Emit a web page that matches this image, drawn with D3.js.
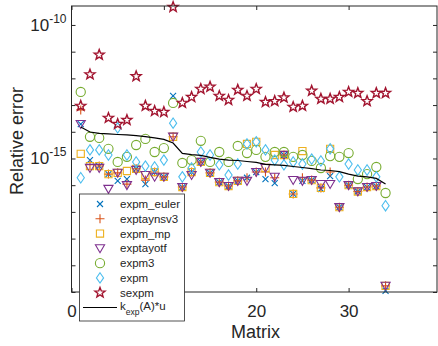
<!DOCTYPE html>
<html><head><meta charset="utf-8">
<script src="https://cdn.jsdelivr.net/npm/d3@7"></script>
<style>body{margin:0;background:#fff}svg{display:block}text{font-family:"Liberation Sans",Arial,Helvetica,sans-serif;fill:#262626}</style>
</head><body><svg id="c" width="438" height="346"></svg>
<script>
const matrices = d3.range(1, 35);
const expm_euler = [1.95e-14,8.7e-16,5.2e-16,2.6e-16,1.45e-16,1.7e-16,4.1e-16,1.1e-16,3.1e-16,2.05e-16,2.2e-13,8.5e-17,3.1e-16,7.4e-16,2.9e-16,1.3e-16,9.3e-17,1.45e-16,1.9e-16,3.1e-16,1.7e-16,1.2e-16,1.35e-15,4.7e-17,1.45e-16,1.55e-16,7.2e-17,2.2e-16,1.5e-17,1.0e-16,5.8e-17,8.5e-17,9.3e-17,1.1e-20];
const exptaynsv3 = [6.6e-14,5.8e-16,5.2e-16,2.6e-16,2.9e-16,1.1e-16,4.1e-16,1.55e-16,3.1e-16,2.05e-16,6.5e-15,8.5e-17,3.1e-16,7.4e-16,2.9e-16,1.3e-16,9.3e-17,1.45e-16,1.9e-16,3.1e-16,3.1e-16,1.9e-16,1.35e-15,4.7e-17,1.9e-16,1.55e-16,7.9e-17,3.1e-16,1.5e-17,1.0e-16,5.8e-17,8.5e-17,9.3e-17,1.7e-20];
const expm_mp = [1.5e-15,5.2e-16,5.2e-16,2.6e-16,2.9e-16,3.4e-16,4.1e-16,2.4e-16,3.1e-16,2.05e-16,6.5e-15,8.5e-17,3.1e-16,7.4e-16,2.9e-16,1.3e-16,9.3e-17,1.45e-16,3.5e-15,4.2e-15,4.4e-16,1.35e-15,1.35e-15,4.7e-17,1.9e-15,1.55e-16,7.9e-17,2.3e-15,1.5e-17,1.0e-16,5.8e-17,8.5e-17,9.3e-17,1.7e-20];
const exptayotf = [1.95e-14,4.4e-16,4.4e-16,7.2e-17,2.9e-16,1.0e-16,3.7e-16,2.4e-16,2.05e-16,2.05e-16,6.5e-15,8.5e-17,2.4e-16,7.4e-16,2.9e-16,1.3e-16,9.3e-17,1.45e-16,1.45e-16,3.1e-16,4.4e-16,2.05e-16,1.35e-15,1.55e-16,1.45e-16,1.55e-16,1.1e-16,1.1e-16,1.5e-17,1.0e-16,5.8e-17,8.5e-17,9.3e-17,1.7e-20];
const expm3 = [3.1e-13,6.5e-15,5.9e-15,2.3e-15,7.4e-16,1.15e-15,3.2e-15,5.4e-15,1.75e-15,2.45e-15,1.2e-13,6.8e-16,8.7e-16,4.6e-15,7.4e-16,1.75e-15,7.4e-16,2.95e-15,1.6e-15,2.1e-15,1.15e-15,1.75e-15,1.75e-15,1.15e-15,1.35e-15,8.1e-16,4.4e-16,1.23e-15,1.15e-15,1.6e-15,1.7e-16,2.6e-16,4.8e-16,5.1e-17];
const expm = [1.9e-16,2.1e-15,2.1e-15,1.35e-15,1.4e-14,1.35e-15,7.4e-16,5.2e-16,4.8e-16,8.7e-16,2.1e-14,2.05e-16,4.4e-16,1.75e-15,1.35e-15,5.8e-16,2.4e-16,6.2e-16,3.5e-15,4.2e-15,2.1e-15,8.7e-16,5.8e-16,7.4e-16,6.2e-16,9.5e-16,8.1e-16,2.3e-15,2.05e-16,6.2e-16,3.7e-16,3.7e-16,2.05e-16,1.7e-17];
const sexpm = [9.3e-14,1.4e-12,7.6e-12,3.3e-14,1.95e-14,2.75e-14,1.2e-12,9.3e-14,6.0e-14,5.5e-14,4.7e-10,1.2e-13,2.0e-13,4.0e-13,4.8e-13,2.2e-13,1.55e-13,3.7e-13,2.2e-13,4.0e-13,1.3e-13,1.4e-13,1.9e-13,8.5e-14,9.3e-14,3.4e-13,1.7e-13,1.7e-13,2.0e-13,3.1e-13,2.8e-13,1.4e-13,2.8e-13,2.8e-13];
const kexp_u = [1.5e-14,9.8e-15,8.7e-15,8.3e-15,7.9e-15,7.6e-15,7.2e-15,6.6e-15,5.9e-15,5.2e-15,3.8e-15,1.55e-15,1.4e-15,1.3e-15,1.1e-15,9.5e-16,8.7e-16,8.4e-16,7.7e-16,7.1e-16,6.0e-16,5.8e-16,5.5e-16,5.0e-16,4.6e-16,4.2e-16,3.7e-16,3.55e-16,3.2e-16,2.6e-16,2.2e-16,2.05e-16,1.8e-16,1.1e-16];
const xTicks = [0, 10, 20, 30];
const xTickLabels = ["0", "", "20", "30"]; // "10" is hidden behind the legend
const yTickExps = [-20,-19,-18,-17,-16,-15,-14,-13,-12,-11,-10];
const yLabelExps = [-15, -10];
const seriesNames = ["expm_euler","exptaynsv3","expm_mp","exptayotf","expm3","expm","sexpm"];

const L = 71.5, R = 437, T = 6, B = 292;
const svg = d3.select("#c");
const x = d3.scaleLinear().domain([0, 39.57]).range([L, R]);
const y = d3.scaleLog().domain([1e-20, Math.pow(10, -9.29)]).range([B, T]);
const axc = "#262626";

function star(r){const p=[];for(let i=0;i<10;i++){const a=-Math.PI/2+i*Math.PI/5;const rr=i%2?r*0.42:r;p.push([rr*Math.cos(a),rr*Math.sin(a)]);}return "M"+p.map(d=>d.map(v=>v.toFixed(2)).join(",")).join("L")+"Z";}
const sym = {
  expm_euler: {c:"#0072BD", p:"M-3,-3L3,3M-3,3L3,-3"},
  exptaynsv3: {c:"#D95319", p:"M-4.5,0L4.5,0M0,-4.5L0,4.5"},
  expm_mp: {c:"#EDB120", p:"M-3.6,-3.6H3.6V3.6H-3.6Z"},
  exptayotf: {c:"#7E2F8E", p:"M-4.6,-3.6L4.6,-3.6L0,4.4Z"},
  expm3: {c:"#77AC30", p:"M4.6,0A4.6,4.6 0 1 1 -4.6,0A4.6,4.6 0 1 1 4.6,0Z"},
  expm: {c:"#4DBEEE", p:"M0,-5.2L3.6,0L0,5.2L-3.6,0Z"},
  sexpm: {c:"#A2142F", p:star(5.3), w:1.4}
};
const data = {expm_euler, exptaynsv3, expm_mp, exptayotf, expm3, expm, sexpm};

const pg = svg.append("g");
seriesNames.forEach(n => {
  pg.append("g").selectAll("path").data(data[n]).join("path")
    .attr("transform",(d,i)=>`translate(${x(matrices[i])},${y(d)})`)
    .attr("d", sym[n].p).attr("fill","none").attr("stroke",sym[n].c).attr("stroke-width",sym[n].w||1.1);
});
pg.append("path").datum(kexp_u)
  .attr("d", d3.line().x((d,i)=>x(matrices[i])).y(d=>y(d)))
  .attr("fill","none").attr("stroke","#000").attr("stroke-width",1.2);

const ax = svg.append("g");
ax.append("rect").attr("x",L).attr("y",T).attr("width",R-L).attr("height",B-T).attr("fill","none").attr("stroke",axc).attr("stroke-width",1);
const xAxB = d3.axisBottom(x).tickValues(xTicks).tickSize(-4).tickPadding(13).tickFormat((d,i)=>xTickLabels[i]);
const gxb = ax.append("g").attr("transform",`translate(0,${B})`).call(xAxB);
gxb.select(".domain").remove();
gxb.selectAll("line").attr("stroke",axc);
gxb.selectAll("text").attr("font-size",17).attr("fill",axc).attr("font-family","Liberation Sans, Arial, sans-serif");
const gxt = ax.append("g").attr("transform",`translate(0,${T})`).call(d3.axisTop(x).tickValues(xTicks).tickSize(-4).tickFormat(""));
gxt.select(".domain").remove(); gxt.selectAll("line").attr("stroke",axc);
const yt = yTickExps.map(e=>Math.pow(10,e));
const gyl = ax.append("g").attr("transform",`translate(${L},0)`).call(d3.axisLeft(y).tickValues(yt).tickSize(-4).tickFormat(""));
gyl.select(".domain").remove(); gyl.selectAll("line").attr("stroke",axc);
const gyr = ax.append("g").attr("transform",`translate(${R},0)`).call(d3.axisRight(y).tickValues(yt).tickSize(-4).tickFormat(""));
gyr.select(".domain").remove(); gyr.selectAll("line").attr("stroke",axc);

yLabelExps.forEach(e => {
  const t = ax.append("text").attr("x", L-5).attr("y", y(Math.pow(10,e))+6).attr("text-anchor","end").attr("font-size",17);
  t.append("tspan").text("10");
  t.append("tspan").attr("font-size",12).attr("dy",-8).text(String(e));
});

svg.append("text").attr("x",255.5).attr("y",338).attr("text-anchor","middle").attr("font-size",18).text("Matrix");
svg.append("text").attr("transform","translate(23,141) rotate(-90)").attr("text-anchor","middle").attr("font-size",18).text("Relative error");

const lg = svg.append("g");
lg.append("rect").attr("x",79.5).attr("y",194).attr("width",105).attr("height",127).attr("fill","#fff").attr("stroke",axc).attr("stroke-width",0.8);
const rowY = d3.scaleLinear().domain([0,7]).range([204,307.5]);
seriesNames.forEach((n,i)=>{
  lg.append("path").attr("transform",`translate(100,${rowY(i)})`).attr("d",sym[n].p).attr("fill","none").attr("stroke",sym[n].c).attr("stroke-width",sym[n].w||1.1);
  lg.append("text").attr("x",120).attr("y",rowY(i)+4).attr("font-size",11.5).text(n);
});
lg.append("line").attr("x1",83).attr("x2",117).attr("y1",rowY(7)).attr("y2",rowY(7)).attr("stroke","#000").attr("stroke-width",1.2);
const kt = lg.append("text").attr("x",120).attr("y",rowY(7)+2).attr("font-size",11.5);
kt.append("tspan").text("k");
kt.append("tspan").attr("font-size",8.5).attr("dy",5).text("exp");
kt.append("tspan").attr("dy",-5).text("(A)*u");
</script></body></html>
